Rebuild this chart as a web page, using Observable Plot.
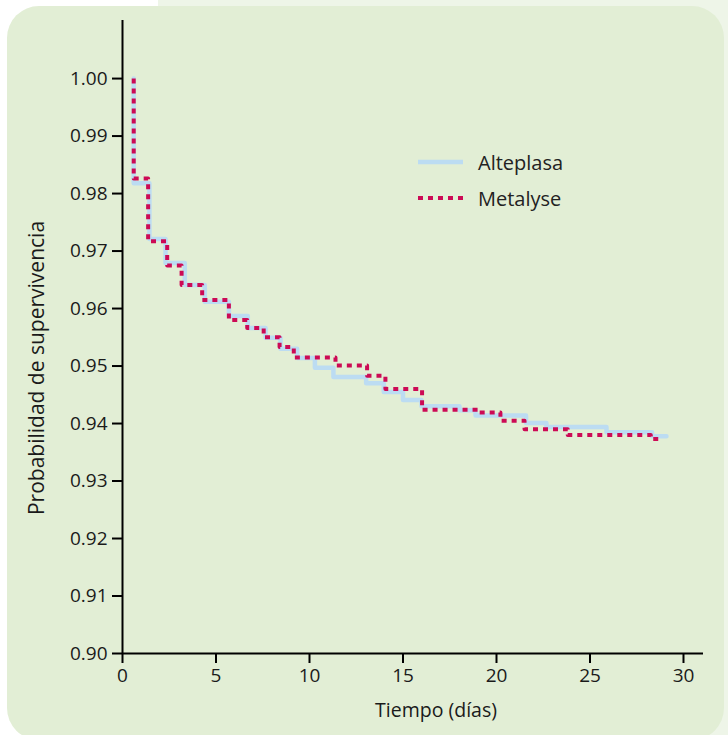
<!DOCTYPE html>
<html>
<head>
<meta charset="utf-8">
<script src="https://cdn.jsdelivr.net/npm/d3@7"></script>
<script src="https://cdn.jsdelivr.net/npm/@observablehq/plot@0.6"></script>
<style>
  html, body { margin: 0; padding: 0; background: #ffffff; }
  #wrap { position: relative; width: 728px; height: 735px; overflow: hidden; font-family: "Open Sans", sans-serif; }
  #band { position: absolute; left: 158px; top: 0; width: 570px; height: 735px; background: #eef5e8; }
  #panel { position: absolute; left: 7px; top: 6px; width: 717px; height: 734px; background: #e2eed5; border-radius: 32px; }
  #chart { position: absolute; left: 0; top: 0; }
  #legend { position: absolute; left: 418px; top: 144px; font-size: 20px; color: #222; }
  .row { display: flex; align-items: center; height: 36px; }
  .row svg { margin-right: 15px; }
</style>
</head>
<body>
<div id="wrap">
  <div id="band"></div>
  <div id="panel"></div>
  <div id="chart"></div>
  <div id="legend"></div>
</div>
<script>
// Alteplasa (Kaplan–Meier steps: time of drop, survival after drop)
const alteplasaDias = [0.6, 0.6, 1.44, 2.3, 3.33, 4.4, 5.69, 6.70, 7.65, 8.45, 9.34, 10.29, 11.28, 13.03, 13.97, 15.0, 15.99, 18.02, 18.88, 21.58, 22.67, 25.88, 28.32, 29.09];
const alteplasaSup  = [1.0, 0.9818, 0.9721, 0.9679, 0.9641, 0.9612, 0.9587, 0.9566, 0.9549, 0.9530, 0.9514, 0.9497, 0.9481, 0.9470, 0.9455, 0.9441, 0.9430, 0.9423, 0.9414, 0.9401, 0.9394, 0.9385, 0.9378, 0.9378];
// Metalyse
const metalyseDias = [0.6, 0.6, 1.37, 2.39, 3.16, 4.26, 5.69, 6.67, 7.55, 8.40, 9.16, 11.39, 13.08, 14.06, 16.02, 19.0, 20.21, 21.5, 23.81, 28.25, 28.77];
const metalyseSup  = [1.0, 0.9826, 0.9717, 0.9675, 0.9641, 0.9615, 0.9580, 0.9566, 0.9550, 0.9533, 0.9515, 0.9501, 0.9483, 0.9460, 0.9424, 0.9419, 0.9405, 0.9390, 0.9380, 0.9373, 0.9373];

const seriesNames = ["Alteplasa", "Metalyse"];
const seriesColors = ["#bcdcf2", "#cc0a55"];
const xTicks = [0, 5, 10, 15, 20, 25, 30];
const yTicks = [0.90, 0.91, 0.92, 0.93, 0.94, 0.95, 0.96, 0.97, 0.98, 0.99, 1.00];
const xLabel = "Tiempo (días)";
const yLabel = "Probabilidad de supervivencia";

const alteplasa = alteplasaDias.map((t, i) => ({t, s: alteplasaSup[i]}));
const metalyse = metalyseDias.map((t, i) => ({t, s: metalyseSup[i]}));

const font = "'Open Sans', sans-serif";

const chart = Plot.plot({
  width: 728,
  height: 735,
  marginLeft: 122,
  marginRight: 25,
  marginTop: 20,
  marginBottom: 82,
  style: { background: "transparent", fontFamily: font, fontSize: "19px", color: "#1a1a1a" },
  x: { domain: [0, 31.07] },
  y: { domain: [0.90, 1.0101] },
  marks: [
    Plot.axisY({ ticks: yTicks, tickFormat: d3.format(".2f"), tickSize: 10, tickPadding: 5, strokeWidth: 2, stroke: "#000", fontSize: 19, label: null }),
    Plot.axisX({ ticks: xTicks, tickFormat: d3.format("d"), tickSize: 10, tickPadding: 5, strokeWidth: 2, stroke: "#000", fontSize: 19, label: null }),
    Plot.ruleX([0], { stroke: "#000", strokeWidth: 2 }),
    Plot.ruleY([0.90], { stroke: "#000", strokeWidth: 2 }),
    Plot.line(alteplasa, { x: "t", y: "s", curve: "step-after", stroke: seriesColors[0], strokeWidth: 4.5 }),
    Plot.line(metalyse, { x: "t", y: "s", curve: "step-after", stroke: seriesColors[1], strokeWidth: 4, strokeDasharray: "5,5", strokeLinecap: "butt" }),
    Plot.text([xLabel], { frameAnchor: "bottom", textAnchor: "middle", dx: 23, dy: 57, lineAnchor: "middle", fontSize: 19.5, fill: "#1a1a1a" }),
    Plot.text([yLabel], { frameAnchor: "left", textAnchor: "middle", dx: -85, dy: 31, rotate: -90, lineAnchor: "middle", fontSize: 21, fill: "#1a1a1a" })
  ]
});
document.getElementById("chart").appendChild(chart);

const legend = document.getElementById("legend");
seriesNames.forEach((name, i) => {
  const row = document.createElement("div");
  row.className = "row";
  const dash = i === 1 ? 'stroke-dasharray="5,5"' : '';
  row.innerHTML = `<svg width="45" height="8"><line x1="0" x2="45" y1="4" y2="4" stroke="${seriesColors[i]}" stroke-width="${i === 1 ? 4 : 4.5}" ${dash}/></svg><span>${name}</span>`;
  legend.appendChild(row);
});
</script>
</body>
</html>
